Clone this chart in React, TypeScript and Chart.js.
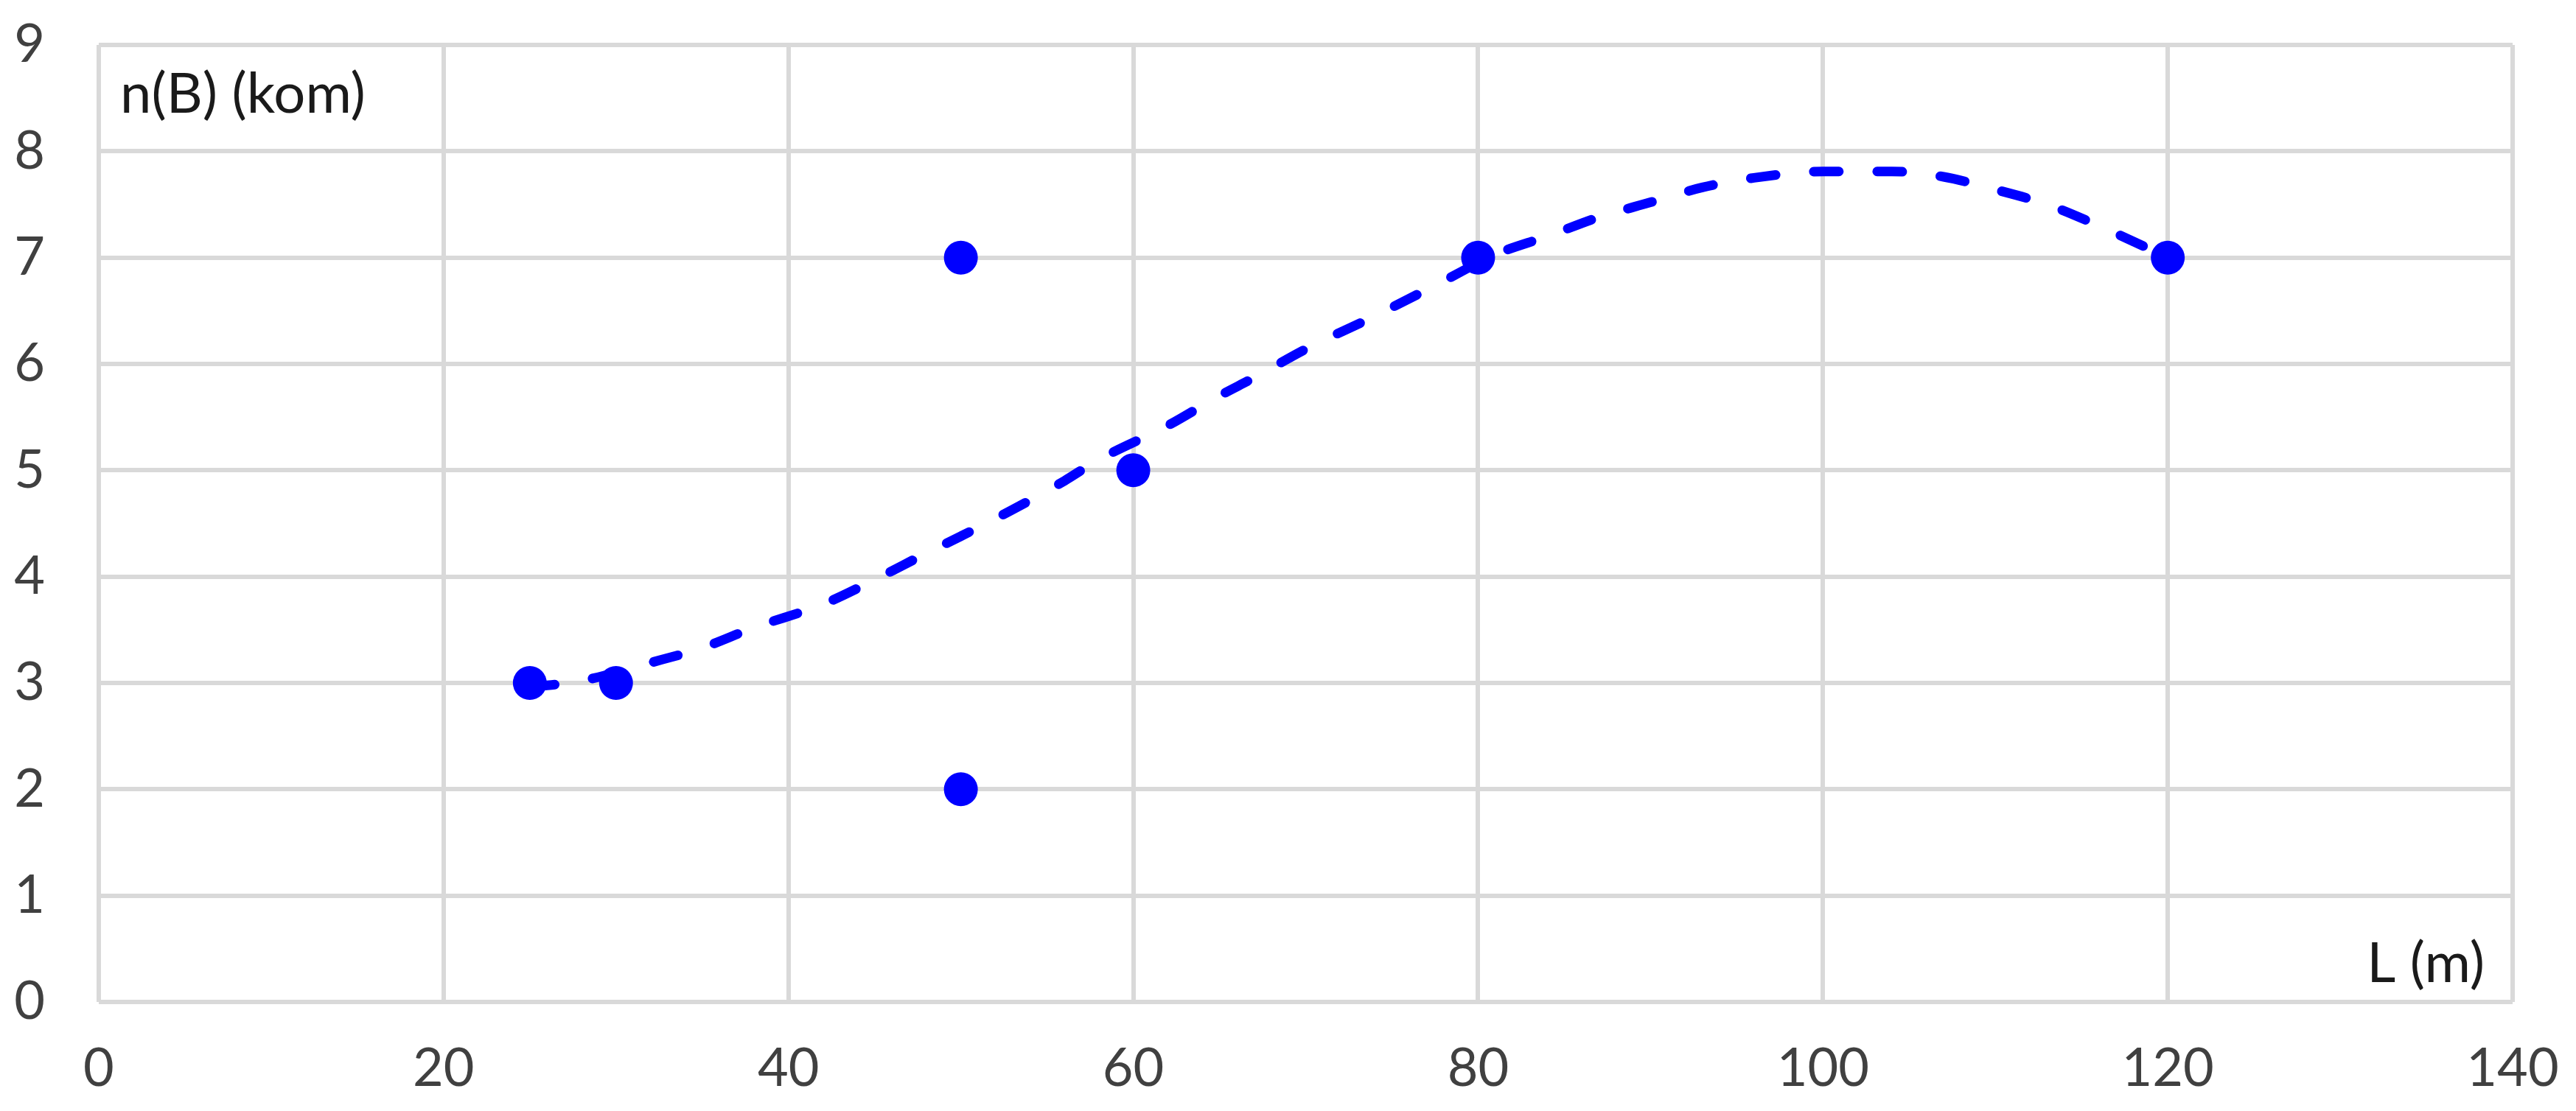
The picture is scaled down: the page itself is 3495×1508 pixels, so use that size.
import React, { useEffect, useRef } from "react";
import { Chart, registerables } from "chart.js";

Chart.register(...registerables);

// Observed data points: L (m) vs n(B) (kom)
const lengthValues = [25, 30, 50, 50, 60, 80, 120];
const countValues = [3, 3, 7, 2, 5, 7, 7];

// Trend line
const trendX = [25, 28, 32, 35, 38, 42, 45, 48, 50, 53, 56, 58, 62, 65, 67, 70, 74, 78, 81, 84, 87, 90, 93, 96, 100, 104, 107, 110, 113, 116, 120];
const trendY = [2.96, 3.02, 3.19, 3.33, 3.52, 3.74, 3.97, 4.22, 4.38, 4.63, 4.9, 5.1, 5.42, 5.7, 5.87, 6.14, 6.45, 6.78, 7.03, 7.2, 7.38, 7.52, 7.66, 7.75, 7.81, 7.81, 7.76, 7.64, 7.5, 7.3, 7.0];

const xTicks = [0, 20, 40, 60, 80, 100, 120, 140];
const yTicks = [0, 1, 2, 3, 4, 5, 6, 7, 8, 9];

const yTitle = "n(B) (kom)";
const xTitle = "L (m)";

const FONT = "Lato, 'Open Sans', sans-serif";
const GRID = "#d9d9d9";
const BLUE = "#0000ff";

export default function App() {
  const canvasRef = useRef<HTMLCanvasElement | null>(null);

  useEffect(() => {
    const canvas = canvasRef.current;
    if (!canvas) return;

    const titlesPlugin = {
      id: "innerTitles",
      afterDraw(chart: any) {
        const { ctx, chartArea } = chart;
        ctx.save();
        ctx.font = `76px ${FONT}`;
        ctx.fillStyle = "#1a1a1a";
        ctx.textBaseline = "alphabetic";
        ctx.textAlign = "left";
        ctx.fillText(yTitle, chartArea.left + 29, chartArea.top + 92);
        ctx.textAlign = "right";
        ctx.fillText(xTitle, chartArea.right - 38, chartArea.bottom - 27);
        ctx.restore();
      },
    };

    const chart = new Chart(canvas, {
      type: "scatter",
      data: {
        datasets: [
          {
            label: "data",
            data: lengthValues.map((x, i) => ({ x, y: countValues[i] })),
            backgroundColor: BLUE,
            borderColor: BLUE,
            borderWidth: 0,
            pointRadius: 23,
            pointHoverRadius: 23,
            order: 0,
          },
          {
            label: "trend",
            data: trendX.map((x, i) => ({ x, y: trendY[i] })),
            showLine: true,
            borderColor: BLUE,
            borderWidth: 13,
            borderDash: [34, 52],
            borderCapStyle: "round",
            cubicInterpolationMode: "monotone",
            pointRadius: 0,
            pointHoverRadius: 0,
            order: 1,
          } as any,
        ],
      },
      options: {
        animation: false,
        responsive: true,
        maintainAspectRatio: false,
        devicePixelRatio: 1,
        layout: { padding: { top: 61, right: 86, left: 0, bottom: 0 } },
        plugins: {
          legend: { display: false },
          tooltip: { enabled: false },
          title: { display: false },
        },
        scales: {
          x: {
            type: "linear",
            min: 0,
            max: 140,
            afterBuildTicks: (scale: any) => {
              scale.ticks = xTicks.map((v) => ({ value: v }));
            },
            afterFit: (scale: any) => {
              scale.height = 148;
              scale.paddingLeft = 0;
              scale.paddingRight = 0;
            },
            grid: { color: GRID, lineWidth: 6, drawTicks: false, tickLength: 0 },
            border: { display: false },
            ticks: {
              color: "#404040",
              font: { family: FONT, size: 72 },
              padding: 48,
              maxRotation: 0,
            },
          },
          y: {
            type: "linear",
            min: 0,
            max: 9,
            afterBuildTicks: (scale: any) => {
              scale.ticks = yTicks.map((v) => ({ value: v }));
            },
            afterFit: (scale: any) => {
              scale.width = 134;
              scale.paddingTop = 0;
              scale.paddingBottom = 0;
            },
            grid: { color: GRID, lineWidth: 6, drawTicks: false, tickLength: 0 },
            border: { display: false },
            ticks: {
              color: "#404040",
              font: { family: FONT, size: 72 },
              padding: 73,
            },
          },
        },
      },
      plugins: [titlesPlugin],
    } as any);

    return () => {
      chart.destroy();
    };
  }, []);

  return (
    <div
      style={{
        position: "fixed",
        left: 0,
        top: 0,
        width: "3495px",
        height: "1508px",
        background: "#ffffff",
      }}
    >
      <canvas ref={canvasRef} />
    </div>
  );
}
